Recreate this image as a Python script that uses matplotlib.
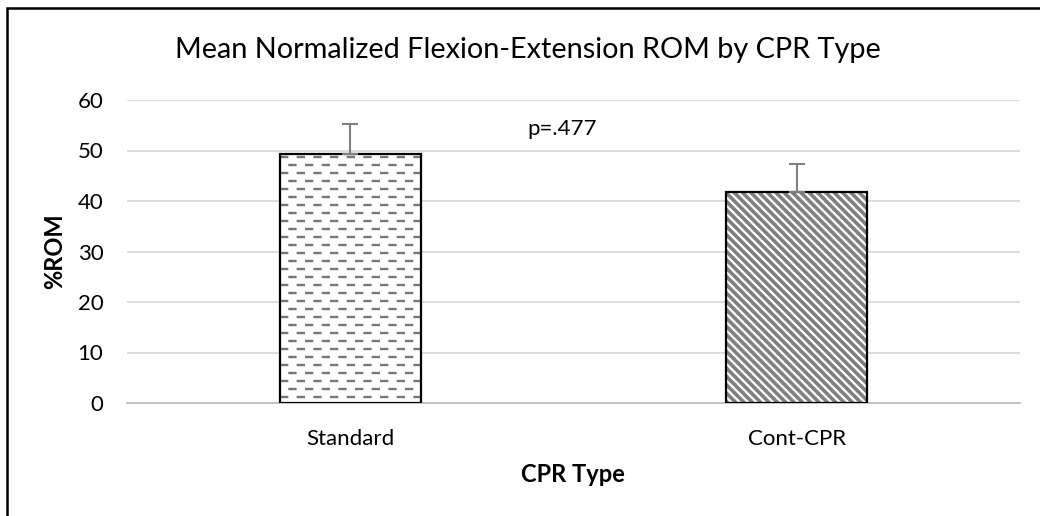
import matplotlib
matplotlib.use("Agg")
import matplotlib.pyplot as plt
from matplotlib.patches import Rectangle
import numpy as np

categories = ["Standard", "Cont-CPR"]
means = [49.4, 41.8]
errors = [5.8, 5.5]
yticks = [0, 10, 20, 30, 40, 50, 60]
title = "Mean Normalized Flexion-Extension ROM by CPR Type"
p_text = "p=.477"

plt.rcParams['font.family'] = ['Lato', 'DejaVu Sans']
plt.rcParams['hatch.linewidth'] = 2.6
plt.rcParams['lines.scale_dashes'] = False

W, H = 1040, 516
fig = plt.figure(figsize=(W/100, H/100), dpi=100)
ax = fig.add_axes([127/W, 1-403/H, (1020-127)/W, (403-100)/H])

x = np.arange(len(categories))
bw = 0.316
# fill + hatch (gray), then black outline on top
hb = ax.bar(x, means, width=bw, color='white', edgecolor='#808080', linewidth=0, zorder=3)
hb[1].set_hatch('\\\\\\\\')
ax.bar(x, means, width=bw, color='none', edgecolor='black', linewidth=1.6, zorder=3.6)

ax.errorbar(x, means, yerr=[np.zeros(len(errors)), errors], fmt='none',
            ecolor='#7f7f7f', elinewidth=1.5, capsize=6, capthick=1.5, zorder=4)

ax.set_xlim(-0.5, 1.5)
ax.set_ylim(0, 60)
ax.set_yticks(yticks)
ax.set_xticks(x)
ax.set_xticklabels(categories, fontsize=16)
ax.tick_params(axis='y', length=0, pad=17, labelsize=16, colors='#000000')
ax.tick_params(axis='x', length=0, pad=19)
ax.grid(axis='y', color='#d9d9d9', linewidth=1.3, zorder=0)
for s in ['left', 'right', 'top']:
    ax.spines[s].set_visible(False)
ax.spines['bottom'].set_color('#bfbfbf')
ax.spines['bottom'].set_linewidth(1.3)
ax.set_axisbelow(True)

ax.text((55-127)/893, 0.5, "%ROM", transform=ax.transAxes, rotation=90,
        fontsize=17, fontweight='bold', ha='center', va='center')
fig.text(573/W, 1-475/H, "CPR Type", fontsize=17, fontweight='bold', ha='center', va='center')
ax.text(0.475, 54.2, p_text, fontsize=16, ha='center', va='center')

fig.text(528/W, 1-50/H, title, fontsize=20.8, ha='center', va='center')

# dashed brick pattern on first bar
fig.canvas.draw()
b0 = hb[0]
x0, x1 = b0.get_x(), b0.get_x() + b0.get_width()
inv = ax.transData.inverted()
top_px = ax.transData.transform((0, means[0]))[1]
bot_px = ax.transData.transform((0, 0))[1]
ys_px = np.arange(top_px - 3.5, bot_px, -8.0)
for i, yp in enumerate(ys_px):
    yd = inv.transform((0, yp))[1]
    ln, = ax.plot([x0, x1], [yd, yd], color='#777777', linewidth=1.7,
                  linestyle=(0 if i % 2 == 0 else 6, (6, 6)), zorder=3.5,
                  solid_capstyle='butt', dash_capstyle='butt')
    ln.set_clip_path(b0)

fig.patches.append(Rectangle((7/W, -0.1), 1.2, 1 - 8/H + 0.1, transform=fig.transFigure,
                             fill=False, edgecolor='black', linewidth=1.8, clip_on=False))

fig.savefig("out.png", dpi=100)
